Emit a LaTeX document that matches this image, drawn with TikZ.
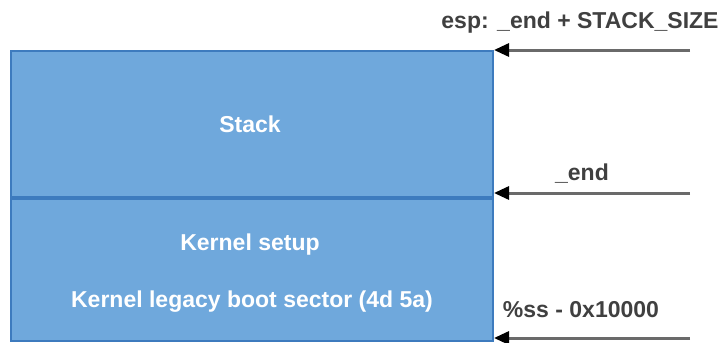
\documentclass[tikz,border=0pt]{standalone}
\usepackage{fontspec}
\setmainfont{Liberation Sans}
\usetikzlibrary{arrows.meta}
\definecolor{regionFill}{HTML}{6FA8DC}
\definecolor{regionBorder}{HTML}{3D7BBE}
\definecolor{labelColor}{HTML}{404040}
\definecolor{pointerColor}{HTML}{6A6A6A}
\tikzstyle{memory} = [x = 1pt, y = -1pt]
\tikzstyle{regionStyle} = [draw=regionBorder, fill=regionFill, line width=2pt, inner sep=0pt, minimum width=482pt]
\tikzstyle{regionText} = [text=white, font=\bfseries\fontsize{23}{27}\selectfont, anchor=base]
\tikzstyle{addressText} = [text=labelColor, font=\bfseries\fontsize{23}{27}\selectfont, anchor=base]
\tikzstyle{pointer} = [draw=pointerColor, line width=3pt, -{Triangle[length=15pt, width=13pt, black]}]
\newcommand{\pointerLine}[2]{\draw [pointer] (#1) -- (#2);}

\begin{document}
\begin{tikzpicture}[memory]
  \useasboundingbox (0,0) rectangle (721,343);
  % memory regions
  \node [regionStyle, minimum height=146pt, anchor=north west] (stack) at (10,50) {};
  \node [regionStyle, minimum height=142pt, anchor=north west] (kernel) at (stack.south west) {};
  \node [regionText] (stackLabel) at (250,132) {Stack};
  \node [regionText] (setupLabel) at (250,250) {Kernel setup};
  \node [regionText] (bootLabel) at (252,307) {Kernel legacy boot sector (4d 5a)};
  % pointers
  \coordinate (espStart) at (690,50);
  \coordinate (endStart) at (690,193);
  \coordinate (ssStart) at (690,338);
  \coordinate (endTip) at (stack.south east |- endStart);
  \coordinate (ssTip) at (kernel.south east |- ssStart);
  \pointerLine{espStart}{stack.north east}
  \pointerLine{endStart}{endTip}
  \pointerLine{ssStart}{ssTip}
  \node [addressText] (espLabel) at (580,28) {esp: \_end + STACK\_SIZE};
  \node [addressText] (endLabel) at (582,180) {\_end};
  \node [addressText] (ssLabel) at (581,317) {\%ss - 0x10000};
\end{tikzpicture}
\end{document}
